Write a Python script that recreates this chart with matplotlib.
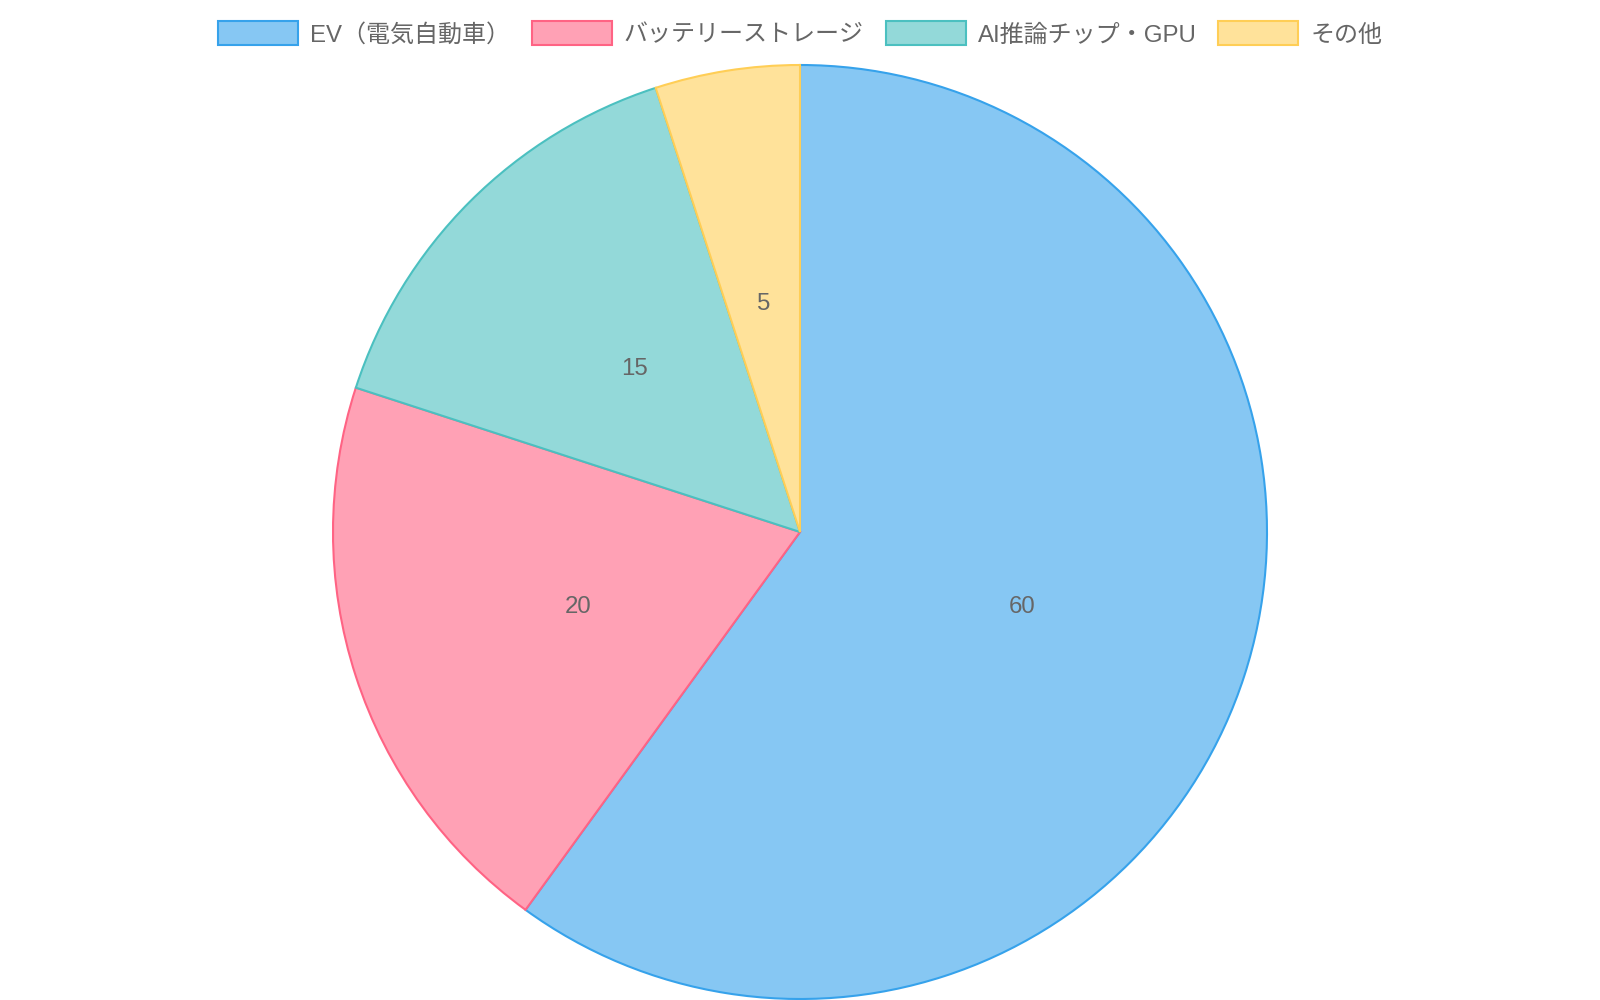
import matplotlib
matplotlib.use('Agg')
import matplotlib.pyplot as plt
from matplotlib.patches import Rectangle

plt.rcParams['font.family'] = ['Liberation Sans', 'Noto Sans CJK JP', 'DejaVu Sans']

# データ
labels = ['EV（電気自動車）', 'バッテリーストレージ', 'AI推論チップ・GPU', 'その他']
values = [60, 20, 15, 5]
fill_colors = ['#86C7F3', '#FFA1B5', '#93D9D9', '#FFE29A']
edge_colors = ['#36A2EB', '#FF6384', '#4BC0C0', '#FFCE56']
text_color = '#666666'

W, H = 1600, 1000
fig = plt.figure(figsize=(16, 10), dpi=100)

# 円グラフ (中心 800,532 / 半径 467 px)
cx, cy, r = 800, 532, 467
ax = fig.add_axes([(cx - r) / W, (H - cy - r) / H, 2 * r / W, 2 * r / H])
wedges, texts, autotexts = ax.pie(
    values, colors=fill_colors, startangle=90, counterclock=False,
    autopct=lambda p: f'{p * sum(values) / 100:.0f}', pctdistance=0.5,
    wedgeprops=dict(linewidth=1.5),
    textprops=dict(color=text_color, fontsize=17.3),
)
for w, ec in zip(wedges, edge_colors):
    w.set_edgecolor(ec)
    w.set_clip_on(False)
for t in autotexts:
    t.set_va('center_baseline')
ax.set_xlim(-1, 1)
ax.set_ylim(-1, 1)
ax.set_aspect('equal')
ax.axis('off')

# 凡例 (Chart.js風に手動で配置)
fs = 17.3
box_w, box_h = 80, 24
gap_txt, gap_item = 12, 22
legend_y = 33

renderer = fig.canvas.get_renderer()
widths = []
for lab in labels:
    t = fig.text(0, 0, lab, fontsize=fs)
    widths.append(t.get_window_extent(renderer).width)
    t.remove()
total = sum(box_w + gap_txt + w for w in widths) + gap_item * (len(labels) - 1)
x = (W - total) / 2
for lab, w, fc, ec in zip(labels, widths, fill_colors, edge_colors):
    fig.add_artist(Rectangle((x / W, (H - legend_y - box_h / 2) / H), box_w / W, box_h / H,
                             facecolor=fc, edgecolor=ec, linewidth=1.5,
                             transform=fig.transFigure))
    fig.text((x + box_w + gap_txt) / W, (H - legend_y) / H, lab, fontsize=fs,
             color=text_color, va='center_baseline', ha='left')
    x += box_w + gap_txt + w + gap_item

fig.savefig('out.png', dpi=100, facecolor='white')
